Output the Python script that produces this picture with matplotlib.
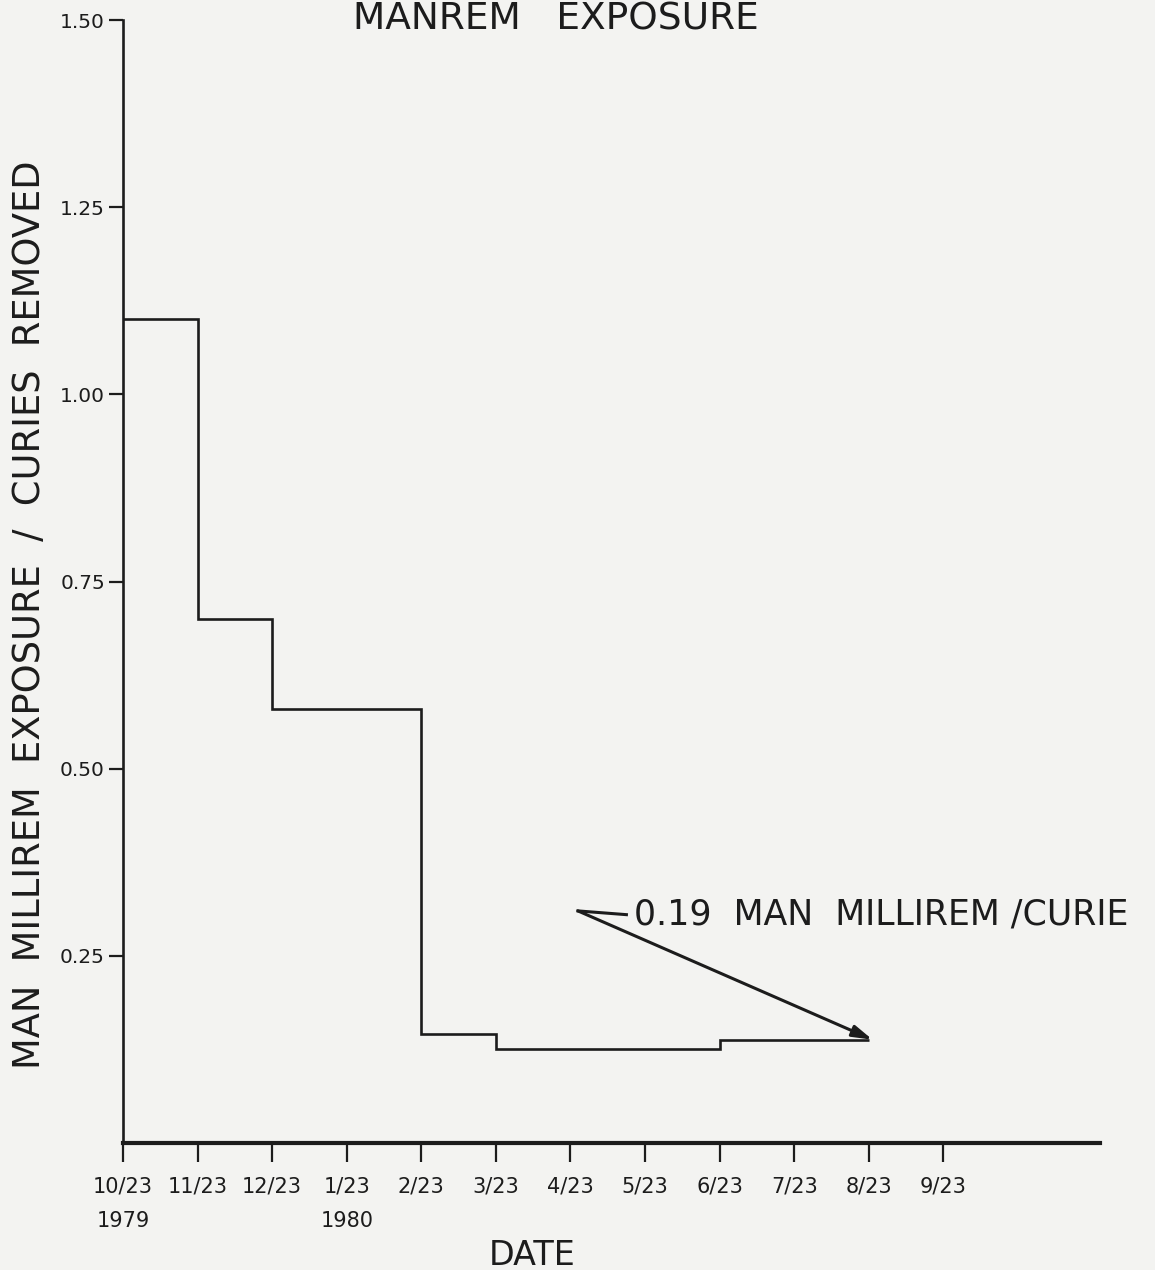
import matplotlib
matplotlib.use("Agg")
import matplotlib.pyplot as plt

# ---- data ----
month_labels = ["10/23\n1979", "11/23", "12/23", "1/23\n1980", "2/23", "3/23",
                "4/23", "5/23", "6/23", "7/23", "8/23", "9/23"]
month_pos = list(range(len(month_labels)))
step_edges = [0, 1, 2, 4, 5, 8, 10]          # month index of each change
step_values = [1.10, 0.70, 0.58, 0.145, 0.125, 0.138]
y_ticks = [0.25, 0.50, 0.75, 1.00, 1.25, 1.50]
y_ticklabels = ["0.25", "0.50", "0.75", "1.00", "1.25", "1.50"]
annotation_text = "0.19  MAN  MILLIREM /CURIE"
annot_corner = (6.1, 0.31)
annot_tip = (10.05, 0.138)
annot_text_pos = (6.85, 0.305)

BG = "#f3f3f1"
INK = "#1c1c1c"
plt.rcParams["font.family"] = ["DejaVu Sans"]

fig = plt.figure(figsize=(11.55, 12.70), dpi=100, facecolor=BG)
ax = fig.add_axes([123 / 1155, 1 - 1143 / 1270, (1100 - 123) / 1155, (1143 - 20) / 1270])
ax.set_facecolor(BG)

ax.stairs(step_values, step_edges, baseline=None, color=INK, linewidth=1.9)

ax.set_xlim(0, 13.1)
ax.set_ylim(0, 1.5)

for s in ["top", "right"]:
    ax.spines[s].set_visible(False)
ax.spines["left"].set_linewidth(1.9)
ax.spines["bottom"].set_linewidth(3.0)
ax.spines["left"].set_color(INK)
ax.spines["bottom"].set_color(INK)

ax.set_yticks(y_ticks)
ax.set_yticklabels(y_ticklabels)
ax.set_xticks(month_pos)
ax.set_xticklabels(month_labels, linespacing=1.9)
ax.tick_params(axis="y", length=10, width=1.6, pad=3, labelsize=14.5, colors=INK)
ax.tick_params(axis="x", length=14, width=1.6, pad=10, labelsize=15, colors=INK)

ax.set_ylabel("MAN  MILLIREM  EXPOSURE  /  CURIES  REMOVED", fontsize=26.5, color=INK)
ax.yaxis.set_label_coords(-0.077, 0.47)
fig.text(532 / 1155, 1 - 1265 / 1270, "DATE", fontsize=24, color=INK,
         ha="center", va="baseline")
fig.text(556 / 1155, 1 - 30 / 1270, "MANREM   EXPOSURE", fontsize=27, color=INK,
         ha="center", va="baseline")

# annotation leader
ax.plot([annot_corner[0], annot_text_pos[0] - 0.1], [annot_corner[1], annot_text_pos[1]],
        color=INK, linewidth=2.2)
ax.annotate("", xy=annot_tip, xytext=annot_corner,
            arrowprops=dict(arrowstyle="-|>,head_length=1.2,head_width=0.35",
                            color=INK, linewidth=2.2, shrinkA=0, shrinkB=0))
ax.text(annot_text_pos[0], annot_text_pos[1], annotation_text, fontsize=25,
        color=INK, ha="left", va="center")

fig.savefig("out.png", dpi=100, facecolor=BG)
